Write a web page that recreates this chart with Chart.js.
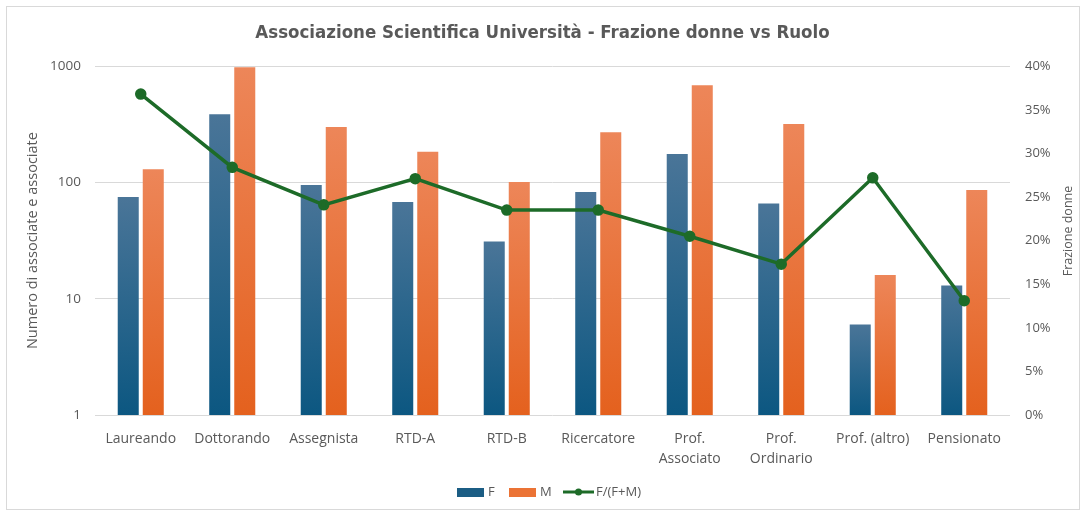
<!DOCTYPE html>
<html>
<head>
<meta charset="utf-8">
<script src="https://cdn.jsdelivr.net/npm/chart.js@4.4.1/dist/chart.umd.min.js"></script>
<style>
  html, body { margin: 0; padding: 0; background: #fff; }
  #wrap { position: relative; width: 1085px; height: 512px; }
  #frame { position: absolute; left: 6px; top: 6px; width: 1074px; height: 504px; border: 1px solid #d9d9d9; box-sizing: border-box; }
  canvas { position: absolute; left: 0; top: 0; }
</style>
</head>
<body>
<div id="wrap">
  <div id="frame"></div>
  <canvas id="chart" width="1085" height="512"></canvas>
</div>
<script>
const categories = ['Laureando', 'Dottorando', 'Assegnista', 'RTD-A', 'RTD-B', 'Ricercatore',
  ['Prof.', 'Associato'], ['Prof.', 'Ordinario'], 'Prof. (altro)', 'Pensionato'];
const femaleCounts = [75, 387, 95, 68, 31, 83, 176, 66, 6, 13];
const maleCounts = [130, 980, 300, 184, 101, 271, 686, 318, 16, 86];
const femaleShare = [0.368, 0.284, 0.241, 0.271, 0.235, 0.235, 0.205, 0.173, 0.272, 0.131];
const countTicks = [1, 10, 100, 1000];

const textColor = '#595959';
const gridColor = '#d9d9d9';
const lineGreen = '#1d6b28';
const baseFont = '"Open Sans", "Liberation Sans", sans-serif';

// vertical gradient per bar, lighter at the top
function barGradient(top, bottom) {
  return function (ctx) {
    const chart = ctx.chart;
    const y = chart.scales && chart.scales.y;
    if (ctx.type !== 'data' || !y) return bottom;
    const yTop = y.getPixelForValue(ctx.raw);
    const yBot = y.bottom;
    if (!isFinite(yTop) || !isFinite(yBot) || yBot <= yTop) return bottom;
    const g = chart.ctx.createLinearGradient(0, yTop, 0, yBot);
    g.addColorStop(0, top);
    g.addColorStop(1, bottom);
    return g;
  };
}

const extras = {
  id: 'extras',
  afterDraw(chart) {
    const c = chart.ctx;
    c.save();
    // right axis title, reading bottom to top
    c.fillStyle = textColor;
    c.font = '12.5px ' + baseFont;
    c.textAlign = 'center';
    c.textBaseline = 'middle';
    c.translate(1068, 231);
    c.rotate(-Math.PI / 2);
    c.fillText('Frazione donne', 0, 0);
    c.restore();

    // legend
    c.save();
    const y = 492;
    c.font = '13px ' + baseFont;
    c.textBaseline = 'middle';
    c.textAlign = 'left';
    c.fillStyle = '#1b5d84';
    c.fillRect(457, y - 4, 27, 9);
    c.fillStyle = textColor;
    c.fillText('F', 488, y);
    c.fillStyle = '#eb7335';
    c.fillRect(509, y - 4, 27, 9);
    c.fillStyle = textColor;
    c.fillText('M', 540, y);
    c.strokeStyle = lineGreen;
    c.lineWidth = 3;
    c.beginPath();
    c.moveTo(563, y);
    c.lineTo(594, y);
    c.stroke();
    c.fillStyle = lineGreen;
    c.beginPath();
    c.arc(578.5, y, 3.5, 0, Math.PI * 2);
    c.fill();
    c.fillStyle = textColor;
    c.fillText('F/(F+M)', 596, y);
    c.restore();
  }
};

new Chart(document.getElementById('chart'), {
  data: {
    labels: categories,
    datasets: [
      {
        type: 'line',
        label: 'F/(F+M)',
        data: femaleShare,
        yAxisID: 'y2',
        borderColor: lineGreen,
        backgroundColor: lineGreen,
        borderWidth: 3.5,
        pointRadius: 4,
        pointHoverRadius: 4,
        tension: 0,
        order: 0
      },
      {
        type: 'bar',
        label: 'F',
        data: femaleCounts,
        yAxisID: 'y',
        backgroundColor: barGradient('#4a7598', '#0c5781'),
        categoryPercentage: 0.547,
        barPercentage: 0.84,
        order: 1
      },
      {
        type: 'bar',
        label: 'M',
        data: maleCounts,
        yAxisID: 'y',
        backgroundColor: barGradient('#ed8659', '#e4611e'),
        categoryPercentage: 0.547,
        barPercentage: 0.84,
        order: 1
      }
    ]
  },
  options: {
    responsive: false,
    animation: false,
    layout: { padding: { left: 0, right: 0, top: 0, bottom: 0 } },
    plugins: {
      legend: { display: false },
      tooltip: { enabled: false },
      title: {
        display: true,
        text: 'Associazione Scientifica Università - Frazione donne vs Ruolo',
        color: textColor,
        font: { family: '"Liberation Sans Narrow", "DejaVu Sans Condensed", sans-serif', size: 18.5, weight: 'bold' },
        padding: { top: 22, bottom: 22 }
      }
    },
    scales: {
      x: {
        grid: { display: false },
        border: { display: false },
        ticks: {
          color: textColor,
          font: { family: baseFont, size: 14, lineHeight: 1.45 },
          padding: 6,
          maxRotation: 0,
          autoSkip: false
        },
        afterFit(scale) { scale.height = 97; }
      },
      y: {
        type: 'logarithmic',
        position: 'left',
        min: 1,
        max: 1000,
        afterBuildTicks(scale) { scale.ticks = countTicks.map(v => ({ value: v })); },
        grid: { color: gridColor, drawTicks: false, lineWidth: 1 },
        border: { display: false },
        ticks: {
          color: textColor,
          font: { family: baseFont, size: 13.5 },
          padding: 14,
          callback: v => String(v)
        },
        title: {
          display: true,
          text: 'Numero di associate e associate',
          color: textColor,
          font: { family: baseFont, size: 14.5 },
          padding: { top: 24, bottom: 0 }
        },
        afterFit(scale) { scale.width = 95; }
      },
      y2: {
        type: 'linear',
        position: 'right',
        min: 0,
        max: 0.4,
        grid: { display: false, drawTicks: false },
        border: { display: false },
        ticks: {
          stepSize: 0.05,
          color: textColor,
          font: { family: baseFont, size: 13 },
          padding: 15,
          callback: v => Math.round(v * 100) + '%'
        },
        afterFit(scale) { scale.width = 75; }
      }
    }
  },
  plugins: [extras]
});
</script>
</body>
</html>
